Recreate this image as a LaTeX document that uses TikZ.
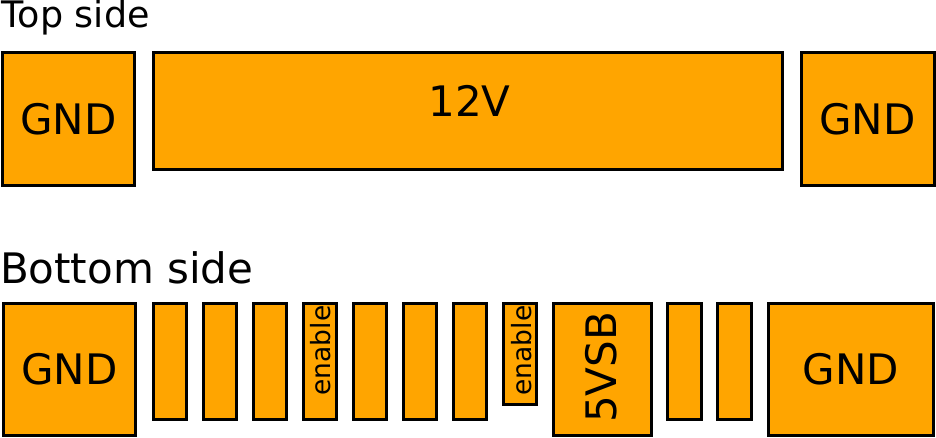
\documentclass[tikz,border=0pt]{standalone}
\usepackage{fontspec}
\setmainfont{DejaVu Sans}
\definecolor{padorange}{RGB}{255,165,0}
\begin{document}
\begin{tikzpicture}[x=1pt,y=-1pt,
  pad/.style={draw=black, line width=3pt, fill=padorange, inner sep=0pt, outer sep=0pt, text=black},
  bigtxt/.style={font=\fontsize{42}{48}\selectfont},
  pin/.style={pad, minimum width=33.5pt, minimum height=116.5pt},
  heading/.style={anchor=base west, inner sep=0pt, outer sep=0pt},
  enabletxt/.style={rotate=90, inner sep=0pt, font=\fontsize{26.5}{30}\selectfont}]
\useasboundingbox (0,0) rectangle (936,438);
% headings
\node[heading, font=\fontsize{36.5}{42}\selectfont] (toptitle) at (1.7,27.7) {Top side};
\node[heading, font=\fontsize{42}{48}\selectfont] (bottitle) at (0,283.3) {Bottom side};
% top side
\node[pad, bigtxt, minimum width=132pt, minimum height=132.5pt] (tgndl) at (68.5,119.25) {GND};
\node[pad, minimum width=629.5pt, minimum height=116.5pt] (t12v) at (467.75,111.25) {};
\node[bigtxt, anchor=base, inner sep=0pt] (t12vlabel) at (469.5,116.7) {12V};
\node[pad, bigtxt, minimum width=133pt, minimum height=132.5pt] (tgndr) at (867.5,119.25) {GND};
% bottom side
\node[pad, bigtxt, minimum width=132.5pt, minimum height=132pt] (bgndl) at (69.25,369) {GND};
\node[pin] (p1) at (169.75,361.25) {};
\node[pin] (p2) at (219.75,361.25) {};
\node[pin] (p3) at (269.75,361.25) {};
\node[pin] (pen1) at (319.75,361.25) {};
\node[enabletxt] (en1label) at (320.3,350.5) {enable};
\node[pin] (p5) at (369.75,361.25) {};
\node[pin] (p6) at (419.75,361.25) {};
\node[pin] (p7) at (469.75,361.25) {};
\node[pad, minimum width=33.5pt, minimum height=101pt] (pen2) at (519.75,353.5) {};
\node[enabletxt] (en2label) at (521.3,350.5) {enable};
\node[pad, minimum width=98.7pt, minimum height=132pt] (p5vsb) at (602.35,369) {};
\node[bigtxt, rotate=90, inner sep=0pt] (vsblabel) at (601.5,367.5) {5VSB};
\node[pin] (p9) at (684.65,361.25) {};
\node[pin] (p10) at (734.65,361.25) {};
\node[pad, bigtxt, minimum width=165.7pt, minimum height=132pt] (bgndr) at (850.85,369) {GND};
\end{tikzpicture}
\end{document}
